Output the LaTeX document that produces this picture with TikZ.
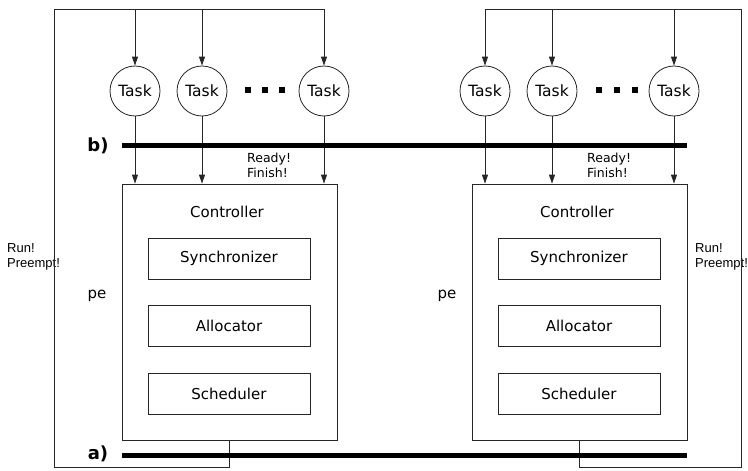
\documentclass[tikz,border=0pt]{standalone}
\usepackage{fontspec}
\setmainfont{DejaVu Sans}
\newfontfamily\arialfont{Liberation Sans}
\usetikzlibrary{arrows.meta}
\tikzset{
  wire/.style={line width=0.8pt, draw=black!85},
  arr/.style={wire, -{Triangle[length=9pt,width=6pt]}},
  bus/.style={line width=5pt},
  task/.style={circle, draw=black!85, line width=0.8pt, minimum size=50pt, inner sep=0pt, font=\fontsize{15.5}{17}\selectfont},
  ctrl/.style={draw=black!85, line width=0.8pt, minimum width=215pt, minimum height=256pt, inner sep=0pt},
  sub/.style={draw=black!85, line width=0.8pt, minimum width=162pt, minimum height=41pt, inner sep=0pt, font=\fontsize{15}{17}\selectfont},
  lbl/.style={font=\fontsize{15}{17}\selectfont, inner sep=0pt},
  small/.style={font=\fontsize{12.5}{15}\selectfont, align=left, inner sep=0pt, anchor=west},
  smallarial/.style={font=\arialfont\fontsize{13}{15}\selectfont, align=left, inner sep=0pt, anchor=west},
  buslbl/.style={font=\bfseries\fontsize{18}{20}\selectfont, inner sep=0pt},
  dot/.style={fill=black, minimum size=5.5pt, inner sep=0pt},
}
\begin{document}
\begin{tikzpicture}[x=1pt,y=-1pt]
\useasboundingbox (0,0) rectangle (748,471);

% ---------- left PE ----------
\node[task] (t1) at (135,91) {Task};
\node[task] (t2) at (202,91) {Task};
\node[task] (t3) at (324,91) {Task};
\node[dot] (d1) at (248,90) {};
\node[dot] (d2) at (265,90) {};
\node[dot] (d3) at (282,90) {};
\node[ctrl] (c1) at (229.5,312) {};
\node[lbl] (c1t) at (227,212) {Controller};
\node[sub] (s1) at (229,258.5) {Synchronizer};
\node[sub] (a1) at (229,326) {Allocator};
\node[sub] (k1) at (229,393.5) {Scheduler};
\node[lbl] (pe1) at (97,296) {pe};
\node[small] (rf1) at (247,165) {Ready!\\Finish!};
\node[smallarial] (rp1) at (7,257) {Run!\\Preempt!};

\coordinate (l1) at (229,467);
\coordinate (l2) at (54,467);
\coordinate (l3) at (54,9);
\coordinate (l4) at (t3 |- l3);
\coordinate (c1b) at (229,440);
\draw[wire] (c1b) -- (l1) -- (l2) -- (l3) -- (l4);
\foreach \t in {t1,t2,t3}{
  \draw[arr] (\t |- l3) -- (\t.north);
  \draw[arr] (\t.south) -- (\t |- c1.north);
}

% ---------- right PE ----------
\node[task] (u1) at (485,91) {Task};
\node[task] (u2) at (552,91) {Task};
\node[task] (u3) at (674,91) {Task};
\node[dot] (e1) at (599,90) {};
\node[dot] (e2) at (617,90) {};
\node[dot] (e3) at (635,90) {};
\node[ctrl] (c2) at (579.5,312) {};
\node[lbl] (c2t) at (577,212) {Controller};
\node[sub] (s2) at (579,258.5) {Synchronizer};
\node[sub] (a2) at (579,326) {Allocator};
\node[sub] (k2) at (579,393.5) {Scheduler};
\node[lbl] (pe2) at (447,296) {pe};
\node[small] (rf2) at (587,165) {Ready!\\Finish!};
\node[smallarial] (rp2) at (695,257) {Run!\\Preempt!};

\coordinate (r1) at (579,467);
\coordinate (r2) at (741,467);
\coordinate (r3) at (741,9);
\coordinate (r4) at (u1 |- r3);
\coordinate (c2b) at (579,440);
\draw[wire] (c2b) -- (r1) -- (r2) -- (r3) -- (r4);
\foreach \t in {u1,u2,u3}{
  \draw[arr] (\t |- r3) -- (\t.north);
  \draw[arr] (\t.south) -- (\t |- c2.north);
}

% ---------- buses ----------
\coordinate (bL) at (122,145);
\coordinate (bR) at (687,145);
\coordinate (aL) at (122,455);
\coordinate (aR) at (687,455);
\draw[bus] (bL) -- (bR);
\draw[bus] (aL) -- (aR);
\node[buslbl] (bl) at (98,146) {b)};
\node[buslbl] (al) at (98,454) {a)};
\end{tikzpicture}
\end{document}
